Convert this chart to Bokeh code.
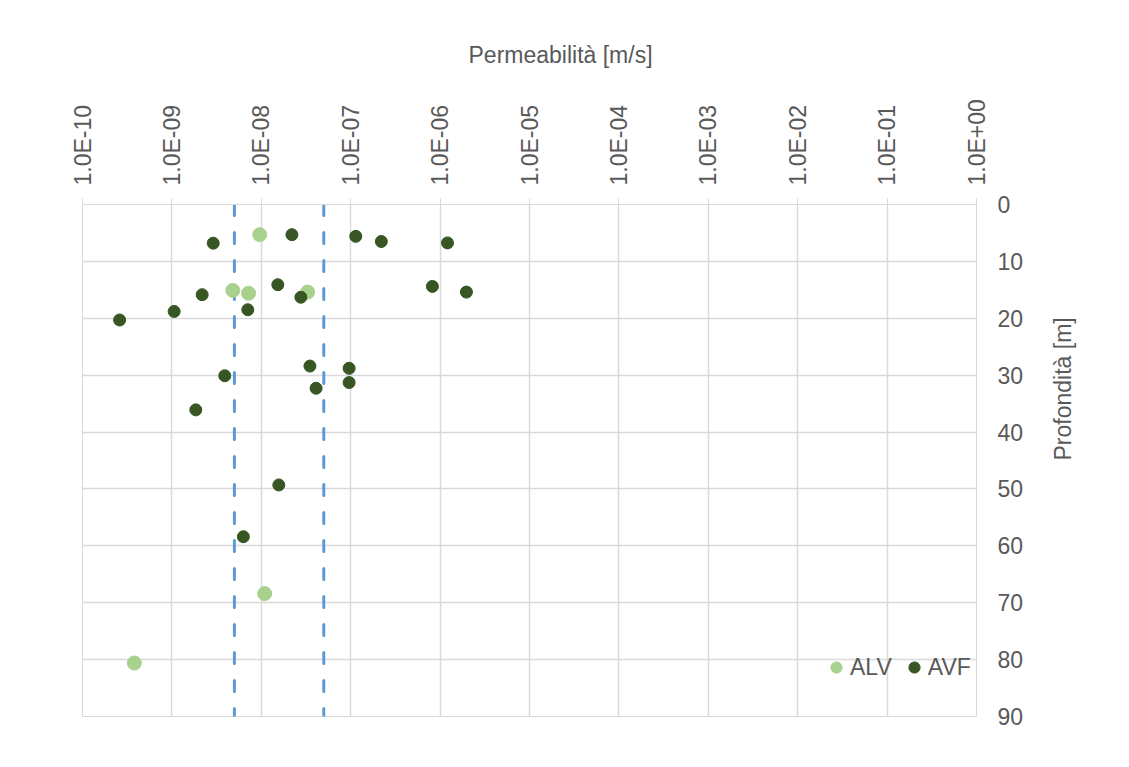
from math import pi
from bokeh.plotting import figure
from bokeh.models import Range1d, FixedTicker, Span, LinearAxis
from bokeh.embed import file_html
from bokeh.resources import INLINE

# ---- data ----
alv_k = [9.6e-9, 4.8e-9, 7.2e-9, 3.3e-8, 1.09e-8, 3.8e-10]
alv_depth = [5.3, 15.1, 15.6, 15.4, 68.4, 80.6]

avf_k = [2.9e-9, 2.2e-8, 1.14e-7, 2.2e-7, 1.21e-6, 1.53e-8, 8.2e-7, 1.97e-6,
         2.18e-9, 2.77e-8, 7.06e-9, 1.06e-9, 2.6e-10, 3.5e-8, 9.6e-8, 3.9e-9,
         9.6e-8, 4.1e-8, 1.85e-9, 1.57e-8, 6.3e-9]
avf_depth = [6.8, 5.3, 5.6, 6.5, 6.75, 14.1, 14.4, 15.4, 15.85, 16.3, 18.5,
             18.8, 20.3, 28.4, 28.8, 30.1, 31.3, 32.3, 36.1, 49.3, 58.4]

thresholds = [5e-9, 5e-8]

x_ticks = [1e-10, 1e-9, 1e-8, 1e-7, 1e-6, 1e-5, 1e-4, 1e-3, 1e-2, 1e-1, 1e0]
x_tick_labels = ["1.0E-10", "1.0E-09", "1.0E-08", "1.0E-07", "1.0E-06", "1.0E-05",
                 "1.0E-04", "1.0E-03", "1.0E-02", "1.0E-01", "1.0E+00"]
y_ticks = [0, 10, 20, 30, 40, 50, 60, 70, 80, 90]

x_title = "Permeabilità [m/s]"
y_title = "Profondità [m]"

FONT = "Liberation Sans"
TXT = "#595959"
GRID = "#d9d9d9"
FS = "23px"

p = figure(
    x_axis_type="log", x_range=Range1d(1e-10, 1e0), y_range=Range1d(90, 0),
    x_axis_location="above", y_axis_location="right",
    frame_width=894, frame_height=512,
    min_border_left=82, min_border_right=145, min_border_top=204, min_border_bottom=43,
    output_backend="svg", toolbar_location=None,
)
p.outline_line_color = GRID
p.background_fill_color = "white"
p.border_fill_color = "white"

p.title.text = x_title
p.title.align = "left"
p.title.offset = 386
p.title.standoff = 58
p.title.text_font = FONT
p.title.text_font_size = FS
p.title.text_font_style = "normal"
p.title.text_color = TXT

xa = p.xaxis[0]
xa.ticker = FixedTicker(ticks=x_ticks)
xa.major_label_overrides = dict(zip(x_ticks, x_tick_labels))
xa.major_label_orientation = pi / 2
xa.major_label_text_font = FONT
xa.major_label_text_font_size = FS
xa.major_label_text_color = TXT
xa.major_label_standoff = 13
xa.major_tick_out = 6
xa.major_tick_in = 0
xa.minor_tick_out = 0
xa.minor_tick_in = 0
xa.major_tick_line_color = GRID
xa.axis_line_color = GRID

ya = p.yaxis[0]
ya.ticker = FixedTicker(ticks=y_ticks)
ya.major_label_text_font = FONT
ya.major_label_text_font_size = FS
ya.major_label_text_color = TXT
ya.major_label_standoff = 21
ya.major_tick_out = 0
ya.major_tick_in = 0
ya.minor_tick_out = 0
ya.minor_tick_in = 0
ya.axis_line_color = GRID

# outer axis carrying only the depth title
ty = LinearAxis(ticker=FixedTicker(ticks=[]), axis_line_color=None,
                major_tick_line_color=None, minor_tick_line_color=None,
                major_label_text_font_size="0px",
                axis_label=y_title, axis_label_standoff=36,
                axis_label_text_font=FONT, axis_label_text_font_size=FS,
                axis_label_text_font_style="normal", axis_label_text_color=TXT)
ty.axis_label_orientation = pi / 2
p.add_layout(ty, "right")

p.xgrid.grid_line_color = GRID
p.ygrid.grid_line_color = GRID
p.xgrid.grid_line_width = 1.5
p.ygrid.grid_line_width = 1.5

for t in thresholds:
    p.add_layout(Span(location=t, dimension="height", line_color="#5B9BD5",
                      line_width=3, line_dash="11 17", line_cap="round",
                      level="underlay"))

p.scatter(alv_k, alv_depth, size=14, color="#A9D18E", legend_label="ALV")
p.scatter(avf_k, avf_depth, size=12, color="#375623", legend_label="AVF")

lg = p.legend[0]
lg.orientation = "horizontal"
lg.location = (740, 35)
lg.background_fill_alpha = 0
lg.border_line_alpha = 0
lg.padding = 0
lg.margin = 0
lg.spacing = 8
lg.label_standoff = -3
lg.glyph_width = 28
lg.glyph_height = 28
lg.label_text_font = FONT
lg.label_text_font_size = FS
lg.label_text_color = TXT

open("out.html", "w").write(file_html(p, INLINE))
